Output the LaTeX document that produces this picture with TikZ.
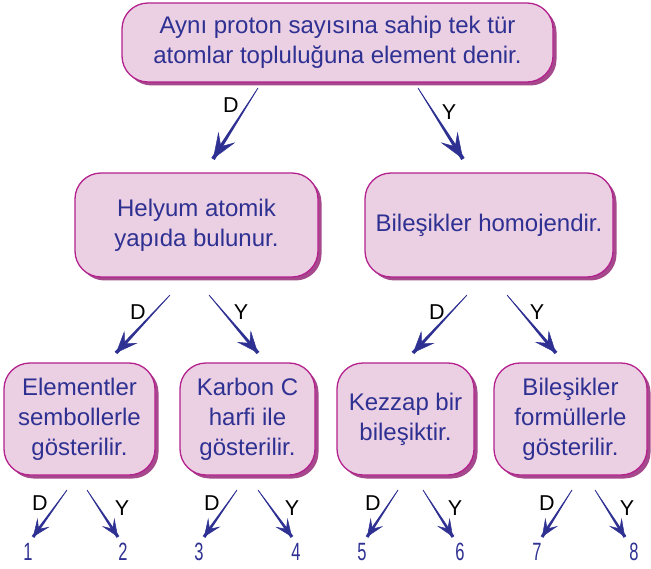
\documentclass[tikz,border=0pt]{standalone}
\usepackage{fontspec}
\setmainfont{Liberation Sans}
\newfontfamily\narrowfont[FakeStretch=0.66]{Liberation Sans}
\usetikzlibrary{arrows.meta,calc,shadows}
\definecolor{boxfill}{RGB}{235,207,227}
\definecolor{boxline}{RGB}{180,34,142}
\definecolor{boxshade}{RGB}{150,40,120}
\definecolor{txtblue}{RGB}{46,49,146}
\tikzset{
  qbox/.style={draw=boxline, line width=1.3pt, fill=boxfill, rounded corners=26pt,
    align=center, text=txtblue, font=\fontsize{24}{30}\selectfont, inner sep=0pt,
    drop shadow={shadow xshift=3.5pt, shadow yshift=-3.5pt, fill=boxshade, opacity=0.85}},
  lbl/.style={font=\fontsize{21.5}{23}\selectfont, text=black, inner sep=0pt},
  num/.style={font=\narrowfont\fontsize{25}{26}\selectfont, text=txtblue, inner sep=0pt},
  bigtip/.style={-{Stealth[length=26pt,width=20pt,inset=11pt]}},
  midtip/.style={-{Stealth[length=22pt,width=18pt,inset=9pt]}},
  smalltip/.style={-{Stealth[length=18pt,width=15pt,inset=8pt]}},
}
% tapered arrow: #1 start, #2 tip, #3 tip style, #4 shaft end half-width
\newcommand\taparrow[4]{%
  \fill[txtblue] ($(#1)!0.3pt!90:(#2)$) -- ($(#2)!#4!-90:(#1)$) -- ($(#2)!#4!90:(#1)$) -- ($(#1)!0.3pt!-90:(#2)$) -- cycle;
  \draw[txtblue, line width=0.5pt, #3] (#1) -- (#2);}
\begin{document}
\begin{tikzpicture}[x=1pt,y=-1pt]
\useasboundingbox (0,0) rectangle (651,569);
% boxes
\node[qbox, minimum width=431pt, minimum height=79pt] (top) at (337.5,42.5)
  {Aynı proton sayısına sahip tek tür\\atomlar topluluğuna element denir.};
\node[qbox, minimum width=243pt, minimum height=104pt] (ml) at (196.5,225)
  {Helyum atomik\\yapıda bulunur.};
\node[qbox, minimum width=248pt, minimum height=104pt] (mr) at (489,225)
  {Bileşikler homojendir.};
\node[qbox, minimum width=151pt, minimum height=112pt] (b1) at (79.5,419)
  {Elementler\\sembollerle\\gösterilir.};
\node[qbox, minimum width=135pt, minimum height=112pt] (b2) at (247.5,419)
  {Karbon C\\harfi ile\\gösterilir.};
\node[qbox, minimum width=137pt, minimum height=112pt] (b3) at (405.5,419)
  {Kezzap bir\\bileşiktir.};
\node[qbox, minimum width=153pt, minimum height=112pt] (b4) at (570.5,419)
  {Bileşikler\\formüllerle\\gösterilir.};
% arrow coordinates
\coordinate (t1s) at (258,88);  \coordinate (t1e) at (213,159);
\coordinate (t2s) at (418,88);  \coordinate (t2e) at (463,159);
\coordinate (l1s) at (170,295); \coordinate (l1e) at (116,353);
\coordinate (l2s) at (209,295); \coordinate (l2e) at (258,353);
\coordinate (r1s) at (467,295); \coordinate (r1e) at (413,353);
\coordinate (r2s) at (507,295); \coordinate (r2e) at (556,353);
\coordinate (a1s) at (67,490);  \coordinate (a1e) at (33,537);
\coordinate (a2s) at (87,490);  \coordinate (a2e) at (118,537);
\coordinate (a3s) at (237,490); \coordinate (a3e) at (204,537);
\coordinate (a4s) at (258,490); \coordinate (a4e) at (292,537);
\coordinate (a5s) at (398,490); \coordinate (a5e) at (367,537);
\coordinate (a6s) at (423,490); \coordinate (a6e) at (453,537);
\coordinate (a7s) at (572,490); \coordinate (a7e) at (542,537);
\coordinate (a8s) at (595,490); \coordinate (a8e) at (625,537);
% arrows
\taparrow{t1s}{t1e}{bigtip}{2pt}
\taparrow{t2s}{t2e}{bigtip}{2pt}
\taparrow{l1s}{l1e}{midtip}{1.8pt}
\taparrow{l2s}{l2e}{midtip}{1.8pt}
\taparrow{r1s}{r1e}{midtip}{1.8pt}
\taparrow{r2s}{r2e}{midtip}{1.8pt}
\taparrow{a1s}{a1e}{smalltip}{1.6pt}
\taparrow{a2s}{a2e}{smalltip}{1.6pt}
\taparrow{a3s}{a3e}{smalltip}{1.6pt}
\taparrow{a4s}{a4e}{smalltip}{1.6pt}
\taparrow{a5s}{a5e}{smalltip}{1.6pt}
\taparrow{a6s}{a6e}{smalltip}{1.6pt}
\taparrow{a7s}{a7e}{smalltip}{1.6pt}
\taparrow{a8s}{a8e}{smalltip}{1.6pt}
% labels
\node[lbl] (dt) at (231,105) {D};
\node[lbl] (yt) at (449,112) {Y};
\node[lbl] (dl) at (138,312) {D};
\node[lbl] (yl) at (241,312) {Y};
\node[lbl] (dr) at (437,312) {D};
\node[lbl] (yr) at (537,312) {Y};
\node[lbl] (d1) at (40,503) {D};   \node[lbl] (y1) at (122,508) {Y};
\node[lbl] (d2) at (212,503) {D};  \node[lbl] (y2) at (292,508) {Y};
\node[lbl] (d3) at (373,503) {D};  \node[lbl] (y3) at (455,508) {Y};
\node[lbl] (d4) at (547,503) {D};  \node[lbl] (y4) at (627,508) {Y};
% numbers
\node[num] (n1) at (28,552) {1};
\node[num] (n2) at (123,552) {2};
\node[num] (n3) at (199,552) {3};
\node[num] (n4) at (296,552) {4};
\node[num] (n5) at (362,552) {5};
\node[num] (n6) at (460,552) {6};
\node[num] (n7) at (537,552) {7};
\node[num] (n8) at (634,552) {8};
\end{tikzpicture}
\end{document}
